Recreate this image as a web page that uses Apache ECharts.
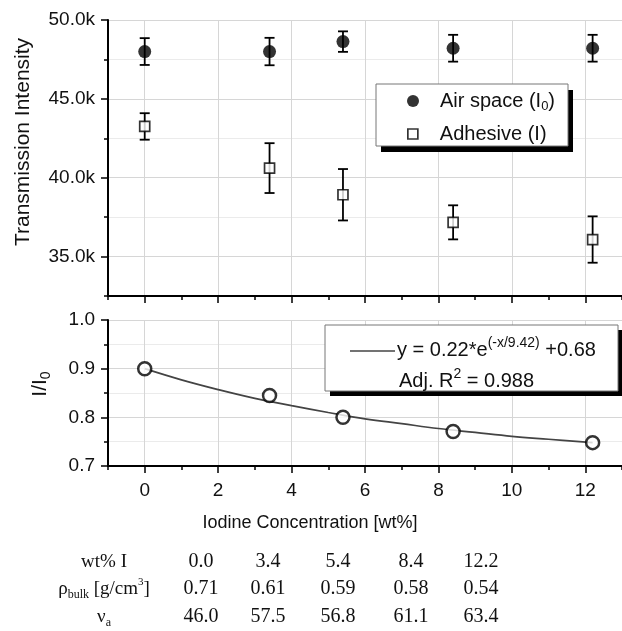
<!DOCTYPE html>
<html><head><meta charset="utf-8">
<script src="https://cdn.jsdelivr.net/npm/echarts@6/dist/echarts.min.js"></script>
<style>html,body{margin:0;padding:0;background:#fff}#c{width:622px;height:631px}</style>
</head><body><div id="c"></div><script>
// ---- data ----
const concentration = [0, 3.4, 5.4, 8.4, 12.2];
const airSpace = [48000, 48000, 48630, 48210, 48210];
const airSpaceErr = [850, 870, 650, 850, 850];
const adhesive = [43250, 40610, 38920, 37170, 36080];
const adhesiveErr = [840, 1580, 1630, 1080, 1470];
const ratio = [0.900, 0.845, 0.800, 0.771, 0.748];
const fitX = [0, 1, 2, 3, 4, 5, 6, 7, 8, 9, 10, 11, 12.2];
const fitY = [0.900, 0.877, 0.857, 0.839, 0.824, 0.810, 0.797, 0.787, 0.777, 0.769, 0.761, 0.755, 0.748];
const xMajorTicks = [0, 2, 4, 6, 8, 10, 12];
const intensityTicks = [35000, 40000, 45000, 50000];
const tableLabels = ['{t|wt% I}', '{t|ρ}{s|bulk}{t| [g/cm}{p|3}{t|]}', '{t|ν}{s|a}'];
const wtI = ['0.0', '3.4', '5.4', '8.4', '12.2'];
const rhoBulk = ['0.71', '0.61', '0.59', '0.58', '0.54'];
const nuA = ['46.0', '57.5', '56.8', '61.1', '63.4'];

const SANS = 'Liberation Sans';
const SERIF = 'Liberation Serif';
const INK = '#000';

const chart = echarts.init(document.getElementById('c'), null, {renderer: 'canvas'});

function errorBar(params, api) {
  const x = api.value(0), lo = api.value(1), hi = api.value(2);
  const a = api.coord([x, hi]);
  const b = api.coord([x, lo]);
  const hw = 5;
  const st = {stroke: INK, lineWidth: 1.8, fill: null};
  return {type: 'group', children: [
    {type: 'line', shape: {x1: a[0], y1: a[1], x2: b[0], y2: b[1]}, style: st},
    {type: 'line', shape: {x1: a[0] - hw, y1: a[1], x2: a[0] + hw, y2: a[1]}, style: st},
    {type: 'line', shape: {x1: b[0] - hw, y1: b[1], x2: b[0] + hw, y2: b[1]}, style: st}
  ]};
}

const axisLineStyle = {show: true, onZero: false, lineStyle: {color: INK, width: 2}};
const minorTick = {show: true, length: 4, lineStyle: {color: INK, width: 1.5}};
const majorTick = {show: true, length: 7, lineStyle: {color: INK, width: 1.5}};
const majorGrid = {show: true, lineStyle: {color: '#d6d6d6', width: 1}};
const minorGrid = {show: true, lineStyle: {color: '#ebebeb', width: 1}};
const tickFont = {fontFamily: SANS, fontSize: 19, color: '#111'};

function xPair(grid, withLabels) {
  return [
    {type: 'value', gridIndex: grid, position: 'bottom', min: -1, max: 13, interval: 1,
     axisLine: axisLineStyle, axisTick: minorTick, axisLabel: {show: false}, splitLine: {show: false}},
    Object.assign({type: 'value', gridIndex: grid, position: 'bottom', min: -1, max: 13,
     axisLine: {show: false, onZero: false},
     axisTick: Object.assign({customValues: xMajorTicks}, majorTick),
     axisLabel: Object.assign({show: withLabels, customValues: xMajorTicks, margin: 15}, tickFont),
     splitLine: majorGrid},
     withLabels ? {name: 'Iodine Concentration [wt%]', nameLocation: 'middle', nameGap: 48,
       nameTextStyle: {fontFamily: SANS, fontSize: 18, color: '#111', padding: [0, 110, 0, 0]}} : {})
  ];
}

const option = {
  animation: false,
  backgroundColor: '#fff',
  grid: [
    {left: 108, top: 20, right: -12, height: 276},
    {left: 108, top: 320, right: -12, height: 146}
  ],
  xAxis: [].concat(xPair(0, false), xPair(1, true)),
  yAxis: [
    {type: 'value', gridIndex: 0, position: 'left', min: 32500, max: 50000, interval: 2500,
     axisLine: axisLineStyle, axisTick: minorTick, axisLabel: {show: false}, splitLine: minorGrid},
    {type: 'value', gridIndex: 0, position: 'left', min: 32500, max: 50000,
     axisLine: {show: false, onZero: false},
     axisTick: Object.assign({customValues: intensityTicks}, majorTick),
     axisLabel: Object.assign({customValues: intensityTicks, margin: 13,
       formatter: v => (v / 1000).toFixed(1) + 'k'}, tickFont),
     splitLine: majorGrid,
     name: 'Transmission Intensity', nameLocation: 'middle', nameGap: 74,
     nameTextStyle: {fontFamily: SANS, fontSize: 21, color: '#111', padding: [0, 0, 0, 32]}},
    {type: 'value', gridIndex: 1, position: 'left', min: 0.7, max: 1.0, interval: 0.1,
     axisLine: axisLineStyle, axisTick: majorTick,
     minorTick: {show: true, splitNumber: 2, length: 4, lineStyle: {color: INK, width: 1.5}},
     axisLabel: Object.assign({margin: 13, formatter: v => v.toFixed(1)}, tickFont),
     splitLine: majorGrid, minorSplitLine: minorGrid,
     name: '{m|I/I}{s|0}', nameLocation: 'middle', nameGap: 55,
     nameTextStyle: {fontFamily: SANS, fontSize: 21, color: '#111', padding: [0, 0, 0, 18],
       rich: {m: {fontFamily: SANS, fontSize: 21, color: '#111', lineHeight: 26},
              s: {fontFamily: SANS, fontSize: 14, color: '#111', lineHeight: 14, verticalAlign: 'bottom'}}}}
  ],
  legend: [
    {data: [{name: 'Air space (I0)', icon: 'circle'}], left: 407, top: 91, padding: 0, z: 6,
     itemWidth: 44, itemHeight: 12, selectedMode: false,
     formatter: () => '{m|Air space (I}{s|0}{m|)}',
     textStyle: {fontFamily: SANS, fontSize: 20, color: '#111',
       rich: {m: {fontFamily: SANS, fontSize: 20, color: '#111', lineHeight: 24},
              s: {fontFamily: SANS, fontSize: 13, color: '#111', lineHeight: 13, verticalAlign: 'bottom'}}}},
    {data: [{name: 'Adhesive (I)', icon: 'path://M0,0L10,0L10,10L0,10Z',
             itemStyle: {color: '#fff', borderColor: INK, borderWidth: 1.7}}],
     left: 407, top: 122, padding: 0, z: 6, itemWidth: 44, itemHeight: 10, selectedMode: false,
     textStyle: {fontFamily: SANS, fontSize: 20, color: '#111', lineHeight: 24}}
  ],
  graphic: [
    {type: 'rect', z: 3, shape: {x: 381, y: 90, width: 192, height: 62}, style: {fill: '#000'}},
    {type: 'rect', z: 3, shape: {x: 376, y: 84, width: 192, height: 62}, style: {fill: '#fff', stroke: '#777', lineWidth: 1}},
    {type: 'rect', z: 3, shape: {x: 330, y: 330, width: 293, height: 66}, style: {fill: '#000'}},
    {type: 'rect', z: 3, shape: {x: 325, y: 325, width: 293, height: 66}, style: {fill: '#fff', stroke: '#777', lineWidth: 1}},
    {type: 'line', z: 4, shape: {x1: 350, y1: 351, x2: 395, y2: 351}, style: {stroke: '#444', lineWidth: 1.7}},
    {type: 'text', z: 4, x: 397, y: 350, style: {
      text: '{m|y = 0.22*e}{p|(-x/9.42)}{m| +0.68}', verticalAlign: 'middle', fill: '#111',
      rich: {m: {fontFamily: SANS, fontSize: 20, lineHeight: 28, fill: '#111'},
             p: {fontFamily: SANS, fontSize: 14, lineHeight: 12, verticalAlign: 'top', fill: '#111'}}}},
    {type: 'text', z: 4, x: 399, y: 381, style: {
      text: '{m|Adj. R}{p|2}{m| = 0.988}', verticalAlign: 'middle', fill: '#111',
      rich: {m: {fontFamily: SANS, fontSize: 20, lineHeight: 28, fill: '#111'},
             p: {fontFamily: SANS, fontSize: 14, lineHeight: 12, verticalAlign: 'top', fill: '#111'}}}}
  ],
  series: [
    {type: 'custom', name: 'airErr', xAxisIndex: 0, yAxisIndex: 0, z: 2, renderItem: errorBar,
     encode: {x: 0, y: [1, 2]},
     data: concentration.map((c, i) => [c, airSpace[i] - airSpaceErr[i], airSpace[i] + airSpaceErr[i]])},
    {type: 'custom', name: 'adhErr', xAxisIndex: 0, yAxisIndex: 0, z: 2, renderItem: errorBar,
     encode: {x: 0, y: [1, 2]},
     data: concentration.map((c, i) => [c, adhesive[i] - adhesiveErr[i], adhesive[i] + adhesiveErr[i]])},
    {type: 'scatter', name: 'Air space (I0)', xAxisIndex: 0, yAxisIndex: 0, z: 3,
     symbol: 'circle', symbolSize: 13, itemStyle: {color: INK},
     data: concentration.map((c, i) => [c, airSpace[i]])},
    {type: 'scatter', name: 'Adhesive (I)', xAxisIndex: 0, yAxisIndex: 0, z: 3,
     symbol: 'rect', symbolSize: 10, itemStyle: {color: '#fff', borderColor: INK, borderWidth: 1.7},
     data: concentration.map((c, i) => [c, adhesive[i]])},
    {type: 'line', name: 'fit', xAxisIndex: 2, yAxisIndex: 2, z: 3, smooth: 0.4,
     showSymbol: false, symbol: 'none', lineStyle: {color: '#444', width: 1.7},
     data: fitX.map((x, i) => [x, fitY[i]])},
    {type: 'scatter', name: 'I/I0', xAxisIndex: 2, yAxisIndex: 2, z: 4,
     symbol: 'circle', symbolSize: 13, itemStyle: {color: '#fff', borderColor: INK, borderWidth: 2.5},
     data: concentration.map((c, i) => [c, ratio[i]])}
  ]
};

// table below the chart
const colX = [201, 268, 338, 411, 481];
const rowY = [562, 589, 617];
const tableRich = {
  t: {fontFamily: SERIF, fontSize: 19, fill: '#111', lineHeight: 24},
  s: {fontFamily: SERIF, fontSize: 12, fill: '#111', lineHeight: 12, verticalAlign: 'bottom'},
  p: {fontFamily: SERIF, fontSize: 11, fill: '#111', lineHeight: 12, verticalAlign: 'top'}
};
[wtI, rhoBulk, nuA].forEach((row, r) => {
  option.graphic.push({type: 'text', x: 104, y: rowY[r], style: {
    text: tableLabels[r], align: 'center', verticalAlign: 'middle', rich: tableRich}});
  row.forEach((v, c) => {
    option.graphic.push({type: 'text', x: colX[c], y: rowY[r], style: {
      text: v, align: 'center', verticalAlign: 'middle', fill: '#111',
      font: '20px "' + SERIF + '"'}});
  });
});

chart.setOption(option);
</script></body></html>
